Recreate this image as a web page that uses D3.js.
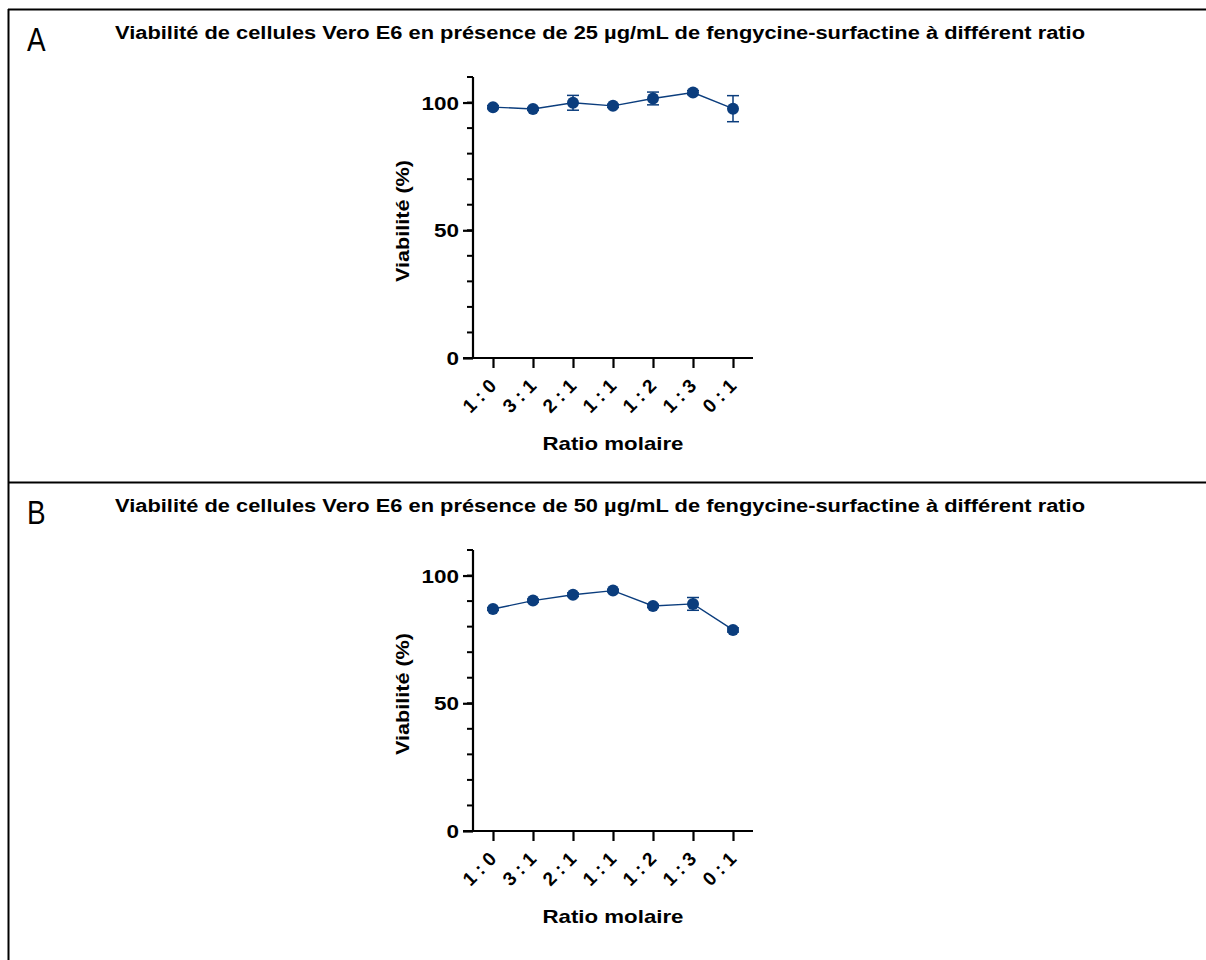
<!DOCTYPE html>
<html>
<head>
    <meta charset="utf-8">
    <title>Viabilité Vero E6 - fengycine/surfactine</title>
    <script src="https://d3js.org/d3.v7.min.js"></script>
    <style>
        body { margin: 0; background: #fff; }
        svg { font-family: "Liberation Sans", Arial, sans-serif; }
        .title { font-size: 18px; font-weight: bold; }
        .letter { font-size: 34px; }
        .axis-label { font-size: 19px; font-weight: bold; }
        .tick text { font-size: 18px; font-weight: bold; fill: #000; font-family: "Liberation Sans", Arial, sans-serif; }
        .x-axis .tick text { font-size: 19px; }
    </style>
</head>
<body>
    <svg id="chart"></svg>

    <script>
        // Data
        var ratios = ["1 : 0", "3 : 1", "2 : 1", "1 : 1", "1 : 2", "1 : 3", "0 : 1"];
        var viab25 = [98.2, 97.5, 99.9, 98.7, 101.6, 103.9, 97.6];
        var sd25 = [0.6, 0.5, 2.9, 0.6, 2.5, 0.8, 5.1];
        var viab50 = [86.9, 90.2, 92.5, 94.1, 88.1, 88.9, 78.7];
        var sd50 = [0.5, 0.6, 0.7, 0.5, 0.6, 2.5, 0.8];
        var yTicks = [0, 50, 100];

        var panels = [
            { letter: "A", title: "Viabilité de cellules Vero E6 en présence de 25 µg/mL de fengycine-surfactine à différent ratio", values: viab25, sd: sd25, top: 0 },
            { letter: "B", title: "Viabilité de cellules Vero E6 en présence de 50 µg/mL de fengycine-surfactine à différent ratio", values: viab50, sd: sd50, top: 473 }
        ];

        var width = 1206, height = 960;
        var blue = "#0b3d7d";

        var svg = d3.select("#chart")
            .attr("width", width)
            .attr("height", height);

        // frame lines
        svg.append("line").attr("x1", 8.5).attr("x2", 8.5).attr("y1", 9).attr("y2", height)
            .attr("stroke", "#000").attr("stroke-width", 2);
        svg.append("line").attr("x1", 8).attr("x2", width).attr("y1", 9.5).attr("y2", 9.5)
            .attr("stroke", "#000").attr("stroke-width", 2);
        svg.append("line").attr("x1", 8).attr("x2", width).attr("y1", 482.5).attr("y2", 482.5)
            .attr("stroke", "#000").attr("stroke-width", 2);

        var x = d3.scalePoint()
            .domain(ratios)
            .range([473, 753])
            .padding(0.5);

        panels.forEach(function (p) {
            var g = svg.append("g").attr("transform", "translate(0," + p.top + ")");

            var y = d3.scaleLinear().domain([0, 110]).range([358, 77]);

            g.append("text").attr("class", "letter")
                .attr("transform", "translate(27,51) scale(0.82,1)")
                .text(p.letter);

            g.append("text").attr("class", "title")
                .attr("x", 115).attr("y", 39)
                .attr("textLength", 970)
                .attr("lengthAdjust", "spacingAndGlyphs")
                .text(p.title);

            // minor ticks every 10
            var minor = d3.range(0, 111, 10);
            g.selectAll(".minor")
                .data(minor)
                .enter().append("line")
                .attr("x1", 467).attr("x2", 473)
                .attr("y1", function (d) { return y(d); })
                .attr("y2", function (d) { return y(d); })
                .attr("stroke", "#000").attr("stroke-width", 2);

            // y axis
            var yAxis = g.append("g")
                .attr("transform", "translate(473,0)")
                .call(d3.axisLeft(y).tickValues(yTicks).tickSize(10).tickPadding(4));
            yAxis.select(".domain").attr("stroke-width", 2.2).attr("d", "M0," + y(110) + "V" + y(0));
            yAxis.selectAll(".tick line").attr("stroke-width", 2.2);
            yAxis.selectAll(".tick text")
                .attr("x", -14 / 1.25)
                .attr("dy", "0.36em")
                .attr("transform", "scale(1.25,1)");

            // x axis
            var xAxis = g.append("g")
                .attr("class", "x-axis")
                .attr("transform", "translate(0,358)")
                .call(d3.axisBottom(x).tickSize(10).tickSizeOuter(0));
            xAxis.select(".domain").attr("stroke-width", 2.2).attr("d", "M463,0H753");
            xAxis.selectAll(".tick line").attr("stroke-width", 2.2);
            xAxis.selectAll(".tick text")
                .attr("text-anchor", "end")
                .attr("dy", null)
                .attr("y", 0)
                .attr("transform", "translate(4,29) rotate(-45)");

            g.append("text").attr("class", "axis-label")
                .attr("x", 613).attr("y", 450)
                .attr("text-anchor", "middle")
                .attr("textLength", 141)
                .attr("lengthAdjust", "spacingAndGlyphs")
                .text("Ratio molaire");

            g.append("text").attr("class", "axis-label")
                .attr("transform", "translate(409,221) rotate(-90)")
                .attr("text-anchor", "middle")
                .attr("textLength", 122)
                .attr("lengthAdjust", "spacingAndGlyphs")
                .text("Viabilité (%)");

            // connecting line
            var line = d3.line()
                .x(function (d, i) { return x(ratios[i]); })
                .y(function (d) { return y(d); });
            g.append("path")
                .datum(p.values)
                .attr("d", line)
                .attr("fill", "none")
                .attr("stroke", blue)
                .attr("stroke-width", 1.4);

            // error bars
            var eb = g.selectAll(".err")
                .data(p.values)
                .enter().append("g");
            eb.append("line")
                .attr("x1", function (d, i) { return x(ratios[i]); })
                .attr("x2", function (d, i) { return x(ratios[i]); })
                .attr("y1", function (d, i) { return y(d + p.sd[i]); })
                .attr("y2", function (d, i) { return y(d - p.sd[i]); })
                .attr("stroke", blue).attr("stroke-width", 1.5);
            [1, -1].forEach(function (s) {
                eb.append("line")
                    .attr("x1", function (d, i) { return x(ratios[i]) - 6; })
                    .attr("x2", function (d, i) { return x(ratios[i]) + 6; })
                    .attr("y1", function (d, i) { return y(d + s * p.sd[i]); })
                    .attr("y2", function (d, i) { return y(d + s * p.sd[i]); })
                    .attr("stroke", blue).attr("stroke-width", 1.5);
            });

            // points
            g.selectAll(".pt")
                .data(p.values)
                .enter().append("circle")
                .attr("cx", function (d, i) { return x(ratios[i]); })
                .attr("cy", function (d) { return y(d); })
                .attr("r", 6)
                .attr("fill", blue);
        });
    </script>
</body>
</html>
